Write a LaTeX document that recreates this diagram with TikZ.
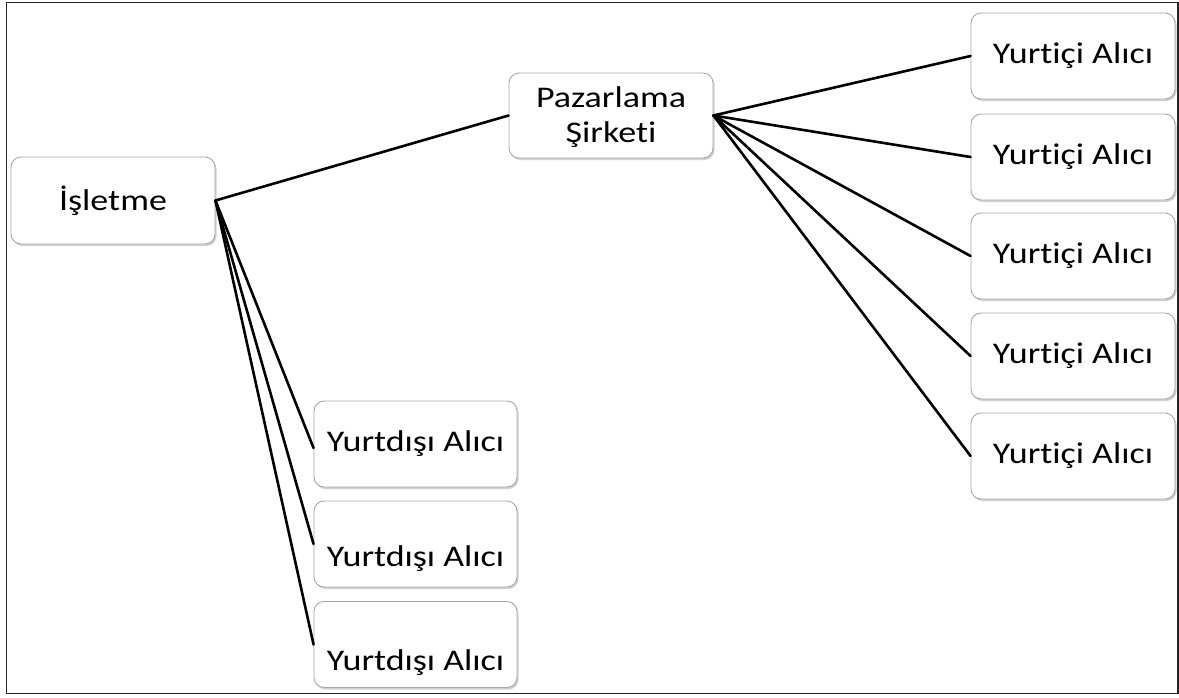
\documentclass[tikz,border=0pt]{standalone}
\usepackage{fontspec}
\setmainfont{Carlito}[Ligatures=NoCommon, FakeStretch=1.2]
\usetikzlibrary{shadows}
\tikzset{
  box/.style={draw=black!35, line width=0.9pt, fill=white, rounded corners=10pt,
    minimum width=204pt, minimum height=86pt, inner sep=0pt, align=center,
    font=\fontsize{30}{35}\selectfont,
    drop shadow={shadow xshift=1.5pt, shadow yshift=-2pt, opacity=0.3, fill=black!60}},
  link/.style={line width=2.6pt, black, line cap=round, line join=round},
  frame/.style={line width=1.6pt, black!85}
}
% lower a text inside its box without changing the box
\newcommand{\lowtext}[2]{\raisebox{-#1}[\height][\depth]{#2}}
\begin{document}
\begin{tikzpicture}[x=1pt, y=-1pt]
  \useasboundingbox (0,0) rectangle (1179,697);
  \draw[frame] (6.5,2.5) rectangle (1178,693.5);

  % company and marketing firm
  \node[box, minimum height=87pt] (isl) at (113,200.5) {İşletme};
  \node[box, minimum height=85pt] (paz) at (611,115.5)
    {\lowtext{2.5pt}{\begin{tabular}{@{}c@{}}Pazarlama\\Şirketi\end{tabular}}};

  % domestic buyers
  \node[box] (yi1) at (1073,56)  {Yurtiçi Alıcı};
  \node[box] (yi2) at (1073,157) {Yurtiçi Alıcı};
  \node[box] (yi3) at (1073,256) {Yurtiçi Alıcı};
  \node[box] (yi4) at (1073,356) {Yurtiçi Alıcı};
  \node[box] (yi5) at (1073,456) {Yurtiçi Alıcı};

  % foreign buyers
  \node[box, minimum width=203pt] (yd1) at (415.5,444)   {Yurtdışı Alıcı};
  \node[box, minimum width=203pt] (yd2) at (415.5,544)   {\lowtext{15pt}{Yurtdışı Alıcı}};
  \node[box, minimum width=203pt] (yd3) at (415.5,644.5) {\lowtext{18pt}{Yurtdışı Alıcı}};

  % connectors
  \draw[link] (isl.east) -- (paz.west);
  \foreach \n in {yi1,yi2,yi3,yi4,yi5}
    \draw[link] (paz.east) -- (\n.west);
  \draw[link] (isl.east) -- ([yshift=-4pt]yd1.west);
  \draw[link] (isl.east) -- (yd2.west);
  \draw[link] (isl.east) -- (yd3.west);
\end{tikzpicture}
\end{document}
